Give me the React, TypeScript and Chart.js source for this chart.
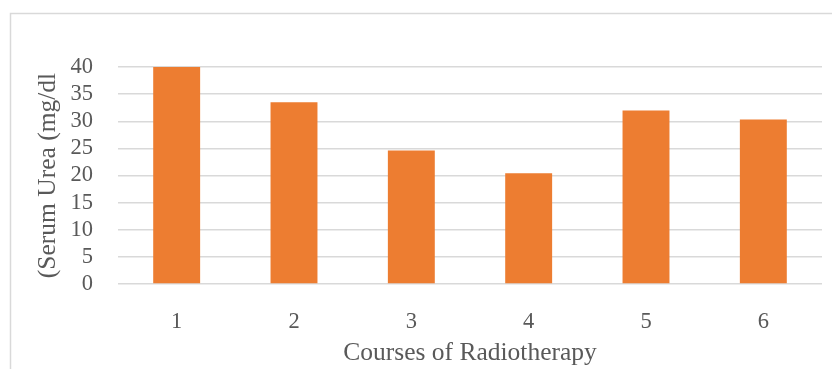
import React, { useEffect, useRef } from "react";
import { Chart, registerables } from "chart.js";

Chart.register(...registerables);

const categories = ["1", "2", "3", "4", "5", "6"];
const serumUrea = [40, 33.5, 24.6, 20.4, 32.0, 30.3];
const yTicks = [0, 5, 10, 15, 20, 25, 30, 35, 40];

const FONT = "'Liberation Serif', 'DejaVu Serif', serif";
const TEXT = "#595959";
const GRID = "#D9D9D9";

const borderPlugin = {
  id: "frameBorder",
  beforeDraw(chart: any) {
    const ctx = chart.ctx;
    ctx.save();
    ctx.fillStyle = "#ffffff";
    ctx.fillRect(0, 0, chart.width, chart.height);
    ctx.strokeStyle = GRID;
    ctx.lineWidth = 1.5;
    ctx.strokeRect(10.5, 13.5, 1000, 500);
    ctx.restore();
  },
};

export default function App() {
  const ref = useRef<HTMLCanvasElement | null>(null);
  useEffect(() => {
    if (!ref.current) return;
    const chart = new Chart(ref.current, {
      type: "bar",
      data: {
        labels: categories,
        datasets: [
          {
            data: serumUrea,
            backgroundColor: "#ED7D31",
            categoryPercentage: 0.8,
            barPercentage: 0.5,
          },
        ],
      },
      options: {
        animation: false,
        responsive: false,
        layout: { padding: { left: 0, right: 10, top: 67, bottom: 0 } },
        plugins: { legend: { display: false }, tooltip: { enabled: false } },
        scales: {
          x: {
            grid: { display: false },
            border: { display: false },
            ticks: { color: TEXT, font: { family: FONT, size: 22.5 }, padding: 17 },
            title: {
              display: true,
              text: "Courses of Radiotherapy",
              color: TEXT,
              font: { family: FONT, size: 25.5 },
              padding: { top: 0, bottom: 0 },
            },
            afterFit(scale: any) {
              scale.height = 85;
            },
          },
          y: {
            min: 0,
            max: 40,
            afterBuildTicks(scale: any) {
              scale.ticks = yTicks.map((v) => ({ value: v }));
            },
            grid: { color: GRID, lineWidth: 1.5, drawTicks: false },
            border: { display: false },
            ticks: {
              color: TEXT,
              font: { family: FONT, size: 22.5 },
              padding: 25,
              autoSkip: false,
            },
            title: {
              display: true,
              text: "(Serum Urea (mg/dl",
              color: TEXT,
              font: { family: FONT, size: 25.5 },
              padding: { top: 33, bottom: 0 },
            },
            afterFit(scale: any) {
              scale.width = 118;
            },
          },
        },
      },
      plugins: [borderPlugin],
    });
    return () => chart.destroy();
  }, []);
  return (
    <div style={{ position: "fixed", left: 0, top: 0, width: 832, height: 369 }}>
      <canvas ref={ref} width={832} height={369} />
    </div>
  );
}
